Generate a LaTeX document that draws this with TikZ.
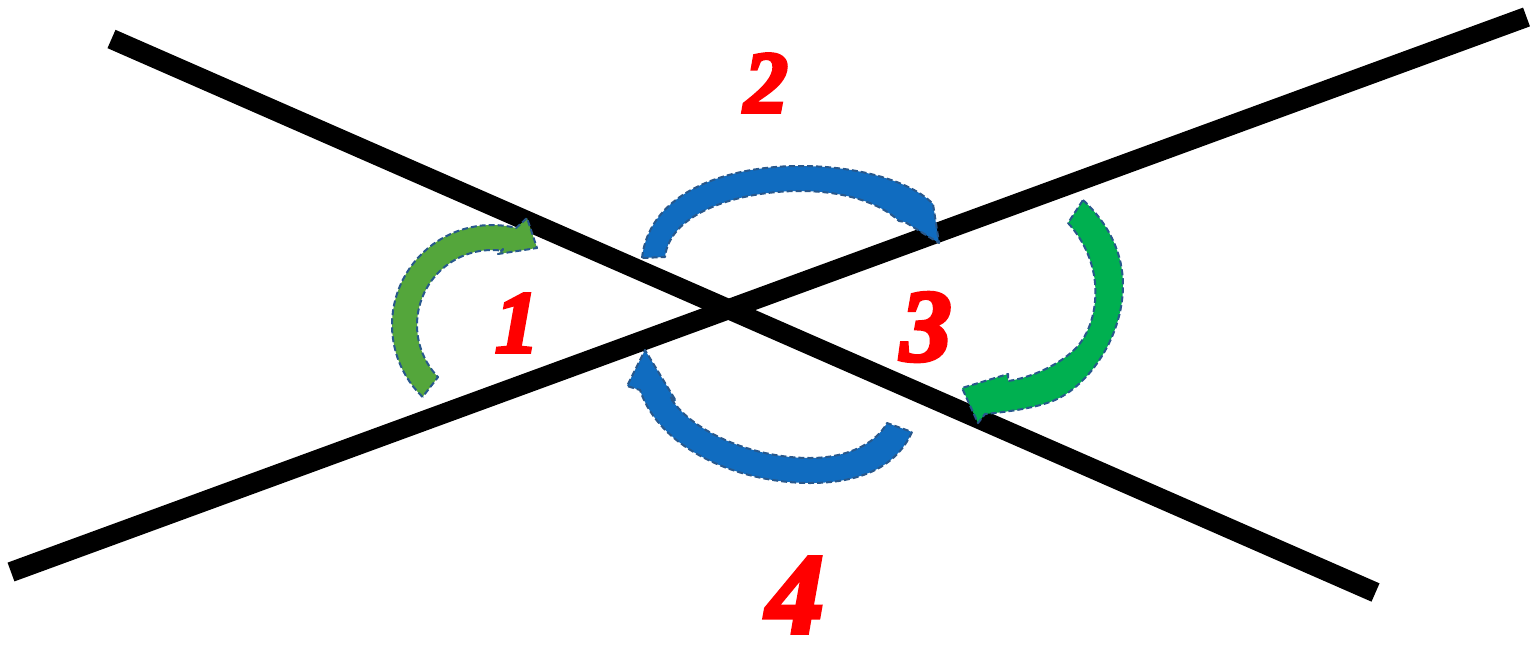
\documentclass[tikz,border=0pt]{standalone}
\usepackage{fontspec}
\setmainfont{Liberation Serif}
\newfontfamily\numfont{Liberation Serif Bold Italic}[FakeBold=4]
\definecolor{greenA}{RGB}{84,166,59}
\definecolor{greenB}{RGB}{0,176,80}
\definecolor{blueA}{RGB}{16,108,192}
\definecolor{edgeblue}{RGB}{40,88,140}
\definecolor{numred}{RGB}{255,0,0}
\tikzset{
  bar/.style={line width=20pt, black},
  curvearrow/.style={draw=edgeblue, line width=2pt, dash pattern=on 6pt off 3pt, line join=round},
  num/.style={text=numred, inner sep=0pt}
}
\begin{document}
\begin{tikzpicture}[x=1pt,y=-1pt]
\useasboundingbox (0,0) rectangle (1537,646);
% crossing lines
\coordinate (a1) at (111.5,39);
\coordinate (a2) at (1375.5,592.5);
\coordinate (b1) at (11,572);
\coordinate (b2) at (1526.5,17);
\draw[bar] (a1) -- (a2);
\draw[bar] (b1) -- (b2);
% arrow 1 (green, left)
\fill[greenA, curvearrow]
  plot[domain=226:76, samples=40] ({492+100*cos(\x)},{325-100*sin(\x)})
  -- (527,218) -- (537,248) -- (498,254) -- (503,249)
  -- plot[domain=82:224, samples=40] ({492+75*cos(\x)},{325-75*sin(\x)})
  -- cycle;
% arrow 2 (blue, top)
\fill[blueA, curvearrow]
  (642,258) .. controls (650,190) and (730,166) .. (800,166)
  .. controls (860,166) and (912,182) .. (933,204)
  -- (939,243) -- (905,222) -- (899,221)
  .. controls (880,203) and (845,191) .. (800,191)
  .. controls (740,191) and (670,212) .. (665,257) -- cycle;
% arrow 3 (green, right)
\fill[greenB, curvearrow]
  (1083,200) .. controls (1110,225) and (1123,255) .. (1123,285)
  .. controls (1123,340) and (1085,390) .. (1050,402)
  .. controls (1030,409) and (1005,412) .. (985,414)
  -- (978,423) -- (962,388) -- (1008,374) -- (1008,381)
  .. controls (1030,378) and (1060,365) .. (1077,347)
  .. controls (1092,330) and (1097,305) .. (1095,283)
  .. controls (1093,260) and (1082,238) .. (1068,223) -- cycle;
% arrow 4 (blue, bottom)
\fill[blueA, curvearrow]
  (912,432) .. controls (895,470) and (855,483) .. (810,483)
  .. controls (740,483) and (660,450) .. (640,390)
  -- (627,386) -- (645,350) -- (676,401) -- (670,397)
  .. controls (690,430) and (750,458) .. (810,458)
  .. controls (845,458) and (875,445) .. (887,423) -- cycle;
% numbers
\node[num, font=\numfont\fontsize{88}{88}\selectfont] (n1) at (517,323) {1};
\node[num, font=\numfont\fontsize{88}{88}\selectfont] (n2) at (766,83) {2};
\node[num, font=\numfont\fontsize{102}{102}\selectfont] (n3) at (926,327) {3};
\node[num, font=\numfont\fontsize{114}{114}\selectfont] (n4) at (795,595) {4};
\end{tikzpicture}
\end{document}
